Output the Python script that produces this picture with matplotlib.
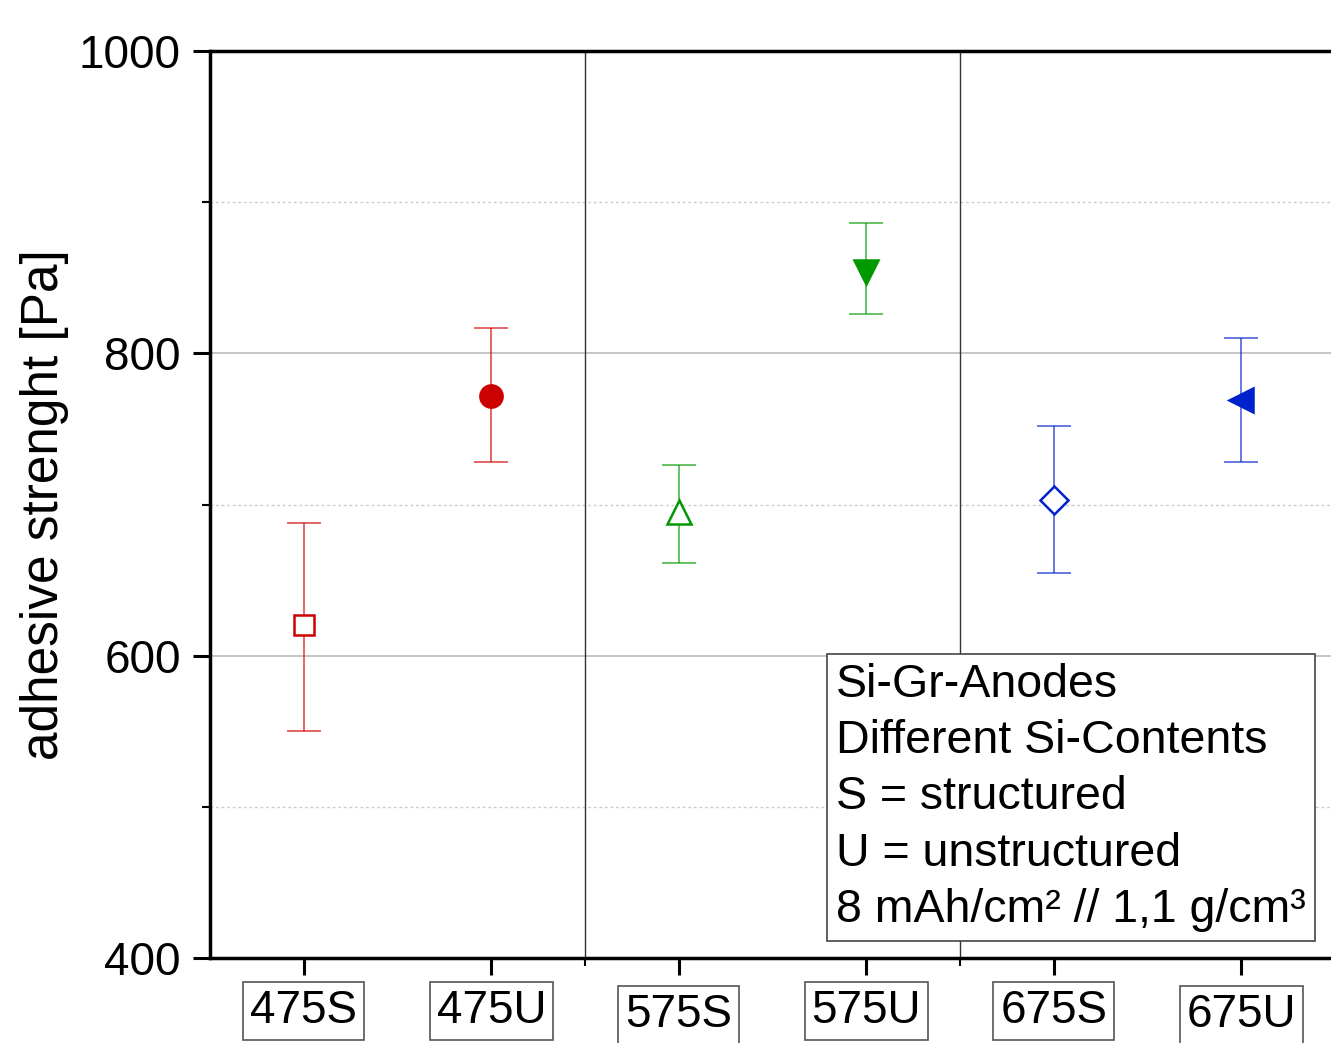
import matplotlib
matplotlib.use('Agg')
import matplotlib.pyplot as plt
import matplotlib.transforms as mtransforms
from matplotlib.ticker import MultipleLocator, FixedLocator

plt.rcParams['font.family'] = ['Liberation Sans', 'DejaVu Sans']

# data
samples = ['475S', '475U', '575S', '575U', '675S', '675U']
means = [620, 772, 695, 854, 703, 769]
err_low = [70, 44, 34, 28, 48, 41]
err_high = [68, 45, 31, 32, 49, 41]

# styling per sample
colors = ['#cc0000', '#cc0000', '#009900', '#009900', '#0022cc', '#0022cc']
markers = ['s', 'o', '^', 'v', 'D', '<']
filled = [False, True, False, True, False, True]
sizes = [14, 16, 17, 17, 14, 17]
label_drop = [0, 0, 4, 0, 0, 4]

fig = plt.figure(figsize=(13.31, 10.43), dpi=100)
ax = fig.add_axes([210 / 1331, 1 - 958 / 1043, 1125 / 1331, 907 / 1043])

x = range(1, len(samples) + 1)
for xi, m, lo, hi, c, mk, f, ms in zip(x, means, err_low, err_high, colors, markers, filled, sizes):
    ax.errorbar([xi], [m], yerr=[[lo], [hi]], fmt='none', ecolor=c, alpha=0.7,
                elinewidth=1.2, capsize=12, capthick=1.2, zorder=3)
    ax.plot([xi], [m], marker=mk, markersize=ms, color=c,
            markerfacecolor=c if f else 'white', markeredgewidth=1.8,
            linestyle='none', zorder=4)

# group separators
for xs in [2.5, 4.5]:
    ax.axvline(xs, color='#333333', lw=1.0, zorder=2)

ax.set_xlim(0.5, 6.5)
ax.set_ylim(400, 1000)

ax.yaxis.set_major_locator(MultipleLocator(200))
ax.yaxis.set_minor_locator(MultipleLocator(100))
ax.grid(which='major', axis='y', color='#bbbbbb', lw=1.2, zorder=0)
ax.grid(which='minor', axis='y', color='#cccccc', lw=1.0, linestyle=(0, (2, 2)), zorder=0)

ax.xaxis.set_major_locator(FixedLocator(list(x)))
ax.xaxis.set_minor_locator(FixedLocator([2.5, 4.5]))
ax.set_xticklabels([])
ax.tick_params(axis='x', which='major', direction='out', length=12, width=2.2)
ax.tick_params(axis='x', which='minor', direction='out', length=6, width=1.5)
ax.tick_params(axis='y', which='major', direction='out', length=12, width=2.2, labelsize=33, pad=9)
ax.tick_params(axis='y', which='minor', direction='out', length=6, width=1.5)

for side in ['left', 'bottom', 'top']:
    ax.spines[side].set_linewidth(2.5)
ax.spines['right'].set_visible(False)

# boxed category labels below the axis
for xi, lab, d in zip(x, samples, label_drop):
    trans = ax.get_xaxis_transform() + mtransforms.ScaledTranslation(0, -(31 + d) / 100, fig.dpi_scale_trans)
    ax.text(xi, 0, lab, transform=trans, ha='center', va='top', fontsize=33,
            bbox=dict(boxstyle='square,pad=0.15', fc='white', ec='#555555', lw=1.2))

ax.set_ylabel('adhesive strenght [Pa]', fontsize=37, labelpad=7)

note = ('Si-Gr-Anodes\nDifferent Si-Contents\nS = structured\n'
        'U = unstructured\n8 mAh/cm² // 1,1 g/cm³')
ax.text((836 - 210) / 1125, (958 - 663) / 907, note, transform=ax.transAxes,
        fontsize=33.5, va='top', ha='left', linespacing=1.36, zorder=5,
        bbox=dict(boxstyle='square,pad=0.2', fc='white', ec='#444444', lw=1.2))

fig.savefig('out.png', dpi=100)
